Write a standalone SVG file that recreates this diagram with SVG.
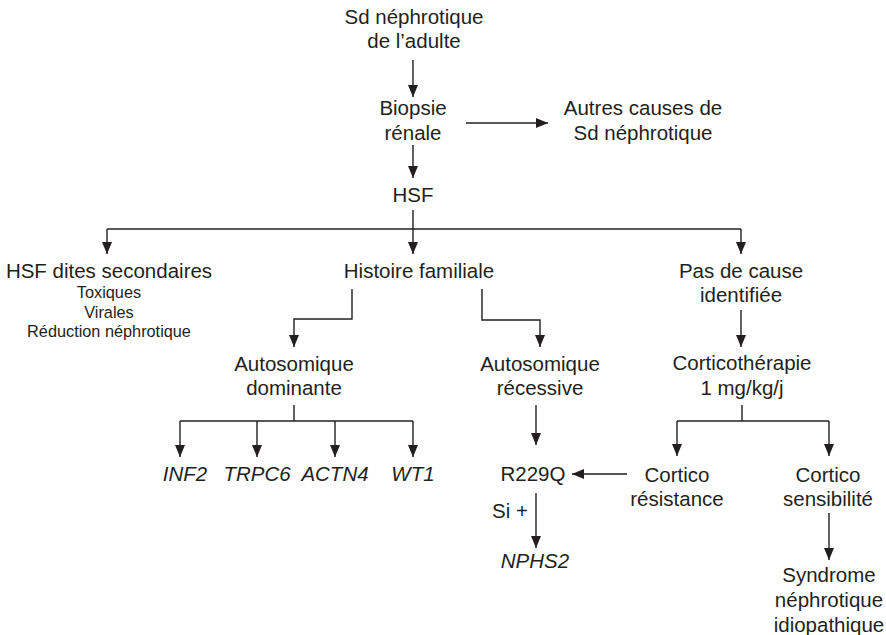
<svg xmlns="http://www.w3.org/2000/svg" width="886" height="635" viewBox="0 0 886 635">
<style>
text{font-family:"Liberation Sans",Arial,sans-serif;font-size:20.5px;fill:#231f20;text-anchor:middle}
.s{font-size:16.3px}
.i{font-style:italic}
.c line,.c polyline{stroke:#231f20;stroke-width:1.4;fill:none}
.c .a{marker-end:url(#ah)}
</style>
<defs>
<marker id="ah" markerUnits="userSpaceOnUse" markerWidth="12" markerHeight="10" refX="12" refY="5" orient="auto">
<path d="M0,0 L12,5 L0,10 z" fill="#231f20"/>
</marker>
</defs>
<rect width="886" height="635" fill="#fff"/>
<g class="c" id="connectors">
<line class="a" x1="413" y1="60" x2="413" y2="97"/>
<line class="a" x1="466" y1="123" x2="548" y2="123"/>
<line class="a" x1="413" y1="145" x2="413" y2="178"/>
<line x1="413" y1="210" x2="413" y2="229"/>
<line x1="107" y1="229" x2="741" y2="229"/>
<line class="a" x1="107" y1="229" x2="107" y2="254"/>
<line class="a" x1="413" y1="229" x2="413" y2="254"/>
<line class="a" x1="741" y1="229" x2="741" y2="254"/>
<polyline class="a" points="352,289 352,319 294,319 294,347"/>
<polyline class="a" points="482,289 482,320 540,320 540,347"/>
<line class="a" x1="741" y1="310" x2="741" y2="347"/>
<line x1="294" y1="405" x2="294" y2="421"/>
<line x1="180" y1="421" x2="413" y2="421"/>
<line class="a" x1="180" y1="421" x2="180" y2="457"/>
<line class="a" x1="257" y1="421" x2="257" y2="457"/>
<line class="a" x1="335" y1="421" x2="335" y2="457"/>
<line class="a" x1="413" y1="421" x2="413" y2="457"/>
<line class="a" x1="536" y1="405" x2="536" y2="445"/>
<line x1="742" y1="405" x2="742" y2="421"/>
<line x1="677" y1="421" x2="829" y2="421"/>
<line class="a" x1="677" y1="421" x2="677" y2="456"/>
<line class="a" x1="829" y1="421" x2="829" y2="456"/>
<line class="a" x1="627" y1="474" x2="572" y2="474"/>
<line class="a" x1="536" y1="493" x2="536" y2="548"/>
<line class="a" x1="829" y1="513" x2="829" y2="560"/>
</g>
<g id="n-sd"><text x="414" y="24">Sd néphrotique</text><text x="414" y="48">de l’adulte</text></g>
<g id="n-biopsie"><text x="413" y="115">Biopsie</text><text x="413" y="140">rénale</text></g>
<g id="n-autres"><text x="643" y="115">Autres causes de</text><text x="643" y="140">Sd néphrotique</text></g>
<g id="n-hsf"><text x="413" y="202">HSF</text></g>
<g id="n-secondaires"><text x="109" y="278">HSF dites secondaires</text><text class="s" x="109" y="298">Toxiques</text><text class="s" x="109" y="318">Virales</text><text class="s" x="109" y="337">Réduction néphrotique</text></g>
<g id="n-histoire"><text x="419" y="278">Histoire familiale</text></g>
<g id="n-pas"><text x="741" y="278">Pas de cause</text><text x="741" y="302">identifiée</text></g>
<g id="n-ad"><text x="294" y="371">Autosomique</text><text x="294" y="395">dominante</text></g>
<g id="n-ar"><text x="540" y="371">Autosomique</text><text x="540" y="395">récessive</text></g>
<g id="n-cortico"><text x="742" y="370">Corticothérapie</text><text x="742" y="395">1 mg/kg/j</text></g>
<g id="n-inf2"><text class="i" x="185" y="481">INF2</text></g>
<g id="n-trpc6"><text class="i" x="257" y="481">TRPC6</text></g>
<g id="n-actn4"><text class="i" x="335" y="481">ACTN4</text></g>
<g id="n-wt1"><text class="i" x="413" y="481">WT1</text></g>
<g id="n-r229q"><text x="533" y="481">R229Q</text></g>
<g id="n-si"><text x="528" y="518" style="text-anchor:end">Si +</text></g>
<g id="n-nphs2"><text class="i" x="535" y="568">NPHS2</text></g>
<g id="n-resist"><text x="677" y="482">Cortico</text><text x="677" y="506">résistance</text></g>
<g id="n-sensib"><text x="828" y="482">Cortico</text><text x="828" y="506">sensibilité</text></g>
<g id="n-syndrome"><text x="829" y="582">Syndrome</text><text x="829" y="607">néphrotique</text><text x="829" y="632">idiopathique</text></g>
</svg>
